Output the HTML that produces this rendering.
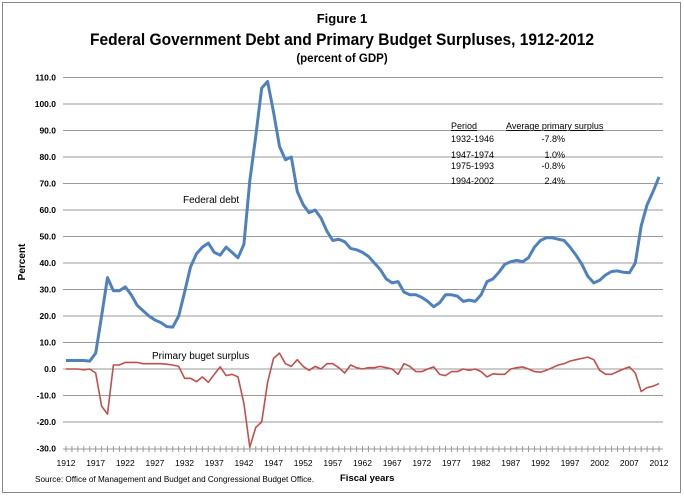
<!DOCTYPE html>
<html><head><meta charset="utf-8"><style>
body{margin:0;width:684px;height:497px;background:#fff;overflow:hidden;font-family:"Liberation Sans",sans-serif}
</style></head><body>
<svg id="s" width="684" height="497" xmlns="http://www.w3.org/2000/svg" font-family="Liberation Sans, sans-serif">
<rect x="2.5" y="2.5" width="678" height="490" fill="#fff" stroke="#888" stroke-width="1"/>
<text x="342" y="23" font-size="13" font-weight="bold" text-anchor="middle">Figure 1</text>
<text x="90" y="45" font-size="17" font-weight="bold" textLength="504" lengthAdjust="spacingAndGlyphs">Federal Government Debt and Primary Budget Surpluses, 1912-2012</text>
<text x="342" y="62" font-size="11.5" font-weight="bold" text-anchor="middle">(percent of GDP)</text>
<g id="grid"></g>
<text transform="translate(25,262) rotate(-90)" font-size="10" font-weight="bold" text-anchor="middle">Percent</text>
<g font-size="9" fill="#000">
<text x="451" y="129" text-decoration="underline">Period</text>
<text x="506" y="129" text-decoration="underline">Average primary surplus</text>
<text x="451" y="142">1932-1946</text><text x="565" y="142" text-anchor="end">-7.8%</text>
<text x="451" y="158">1947-1974</text><text x="565" y="158" text-anchor="end">1.0%</text>
<text x="451" y="169">1975-1993</text><text x="565" y="169" text-anchor="end">-0.8%</text>
<text x="451" y="184">1994-2002</text><text x="565" y="184" text-anchor="end">2.4%</text>
</g>
<text x="183" y="203" font-size="10">Federal debt</text>
<text x="152" y="359" font-size="10">Primary buget surplus</text>
<text x="35" y="482" font-size="8" textLength="279" lengthAdjust="spacingAndGlyphs">Source:  Office of Management and Budget and Congressional Budget Office.</text>
<text x="340" y="481" font-size="9.5" font-weight="bold">Fiscal years</text>
</svg>
<script>
var s=document.getElementById('s'),g=document.getElementById('grid'),NS="http://www.w3.org/2000/svg";
function Y(v){return 369-v*2.65;} function X(y){return 66+(y-1912)*5.93;}
function el(t,a,p){var e=document.createElementNS(NS,t);for(var k in a)e.setAttribute(k,a[k]);(p||s).appendChild(e);return e;}
for(var v=-30;v<=110;v+=10){ if(v>-30) el('line',{x1:63,x2:663,y1:Y(v),y2:Y(v),stroke:'#999','stroke-width':1},g);
 var t=el('text',{x:56,y:Y(v)+3,'font-size':8.5,'font-weight':'bold','text-anchor':'end'},g);t.textContent=v.toFixed(1);}
el('line',{x1:63,x2:663,y1:449,y2:449,stroke:'#999'},g);
for(var y=1912;y<=2012;y++){el('line',{x1:X(y),x2:X(y),y1:446,y2:452,stroke:'#999'},g);
 if((y-1912)%5==0){var t=el('text',{x:X(y),y:466,'font-size':8.5,'text-anchor':'middle'},g);t.textContent=y;}}
var d=[3.2,3.2,3.2,3.2,3,6,20,34.5,29.5,29.5,31,28,24,22,20,18.5,17.5,16,15.8,20,29,38.5,43.5,46,47.5,44,43,46,44,42,47,71,88,106,108.5,97,84,79,80,67,62,59,60,57,52,48.5,49,48,45.5,45,44,42.5,40,37.5,34,32.5,33,29,28,28,27,25.5,23.5,25,28,28,27.5,25.5,26,25.5,28,33,34,36.5,39.5,40.5,41,40.5,42,46,48.5,49.5,49.5,49,48.5,46,43,39.5,35,32.5,33.5,35.5,36.8,37,36.5,36.3,40,54,62,67,72.5];
var p=[0,0,0,-0.3,0,-1.5,-14,-17,1.5,1.5,2.5,2.5,2.5,2,2,2,2,1.8,1.5,1,-3.5,-3.5,-4.8,-3,-5,-2,0.8,-2.5,-2,-3,-13,-29.5,-22,-20,-5,4,6,2,1,3.5,1,-0.5,1,0,2,2,0.5,-1.5,1.5,0.5,0,0.5,0.5,1,0.5,0,-2,2,1,-1,-1,0,0.8,-2,-2.5,-1,-1,0,-0.5,0,-1,-3,-1.8,-2,-2,0,0.5,0.8,0,-1,-1.2,-0.5,0.5,1.5,2,3,3.5,4,4.5,3.5,-0.5,-2,-2,-1,0,0.8,-1.5,-8.5,-7,-6.5,-5.5];
function pl(a,c,w){el('polyline',{points:a.map(function(v,i){return X(1912+i).toFixed(1)+','+Y(v).toFixed(1)}).join(' '),fill:'none',stroke:c,'stroke-width':w,'stroke-linejoin':'round'});}
pl(p,'#c0504d',1.6);pl(d,'#4f81bd',3);
</script>
</body></html>
